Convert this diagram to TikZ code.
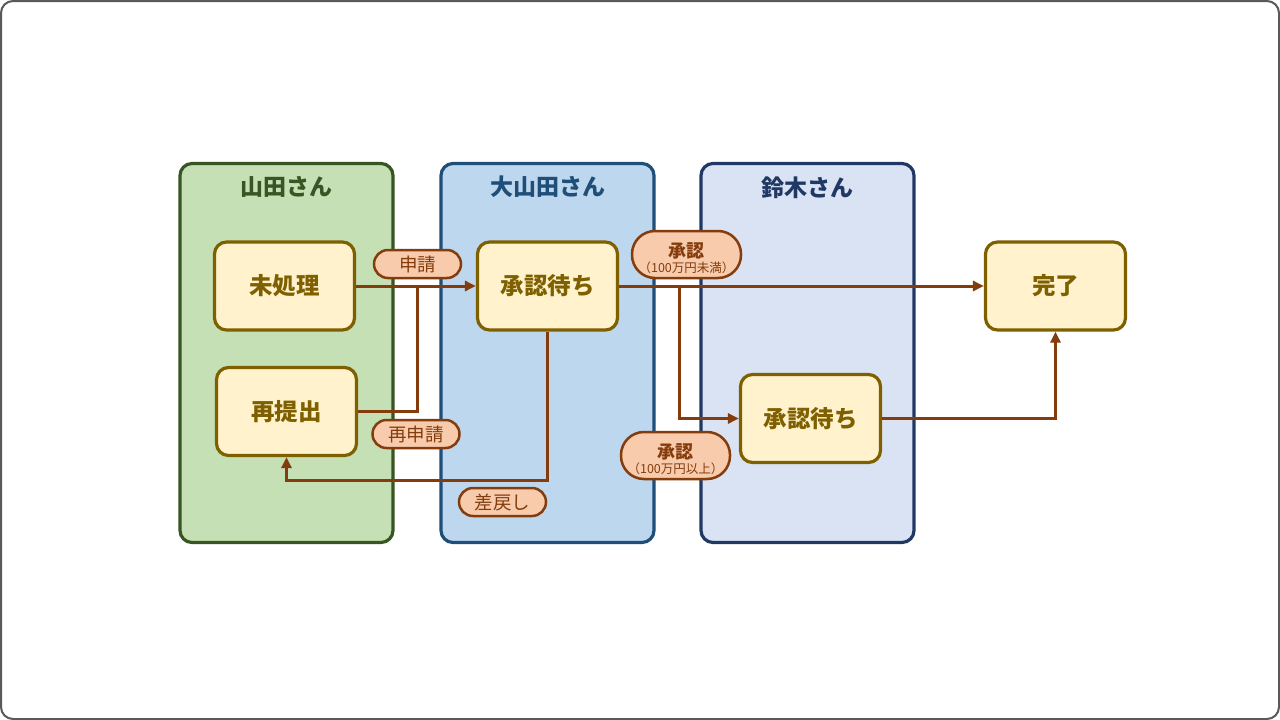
\documentclass[tikz,border=0pt]{standalone}
\usepackage{fontspec}
\setmainfont{Noto Sans CJK JP}
\usetikzlibrary{arrows.meta}
\definecolor{framegray}{HTML}{595959}
\definecolor{laneAfill}{HTML}{C5E0B4}
\definecolor{laneAline}{HTML}{375623}
\definecolor{laneBfill}{HTML}{BDD7EE}
\definecolor{laneBline}{HTML}{1F4E79}
\definecolor{laneCfill}{HTML}{DAE3F3}
\definecolor{laneCline}{HTML}{203864}
\definecolor{statefill}{HTML}{FFF2CC}
\definecolor{stateline}{HTML}{7F6000}
\definecolor{edgecol}{HTML}{843C0C}
\definecolor{tagfill}{HTML}{F8CBAD}
\tikzset{
  lane/.style={rounded corners=12pt, line width=3.2pt, minimum width=213pt, minimum height=379pt, inner sep=0pt},
  lanetitle/.style={font=\fontsize{23}{27}\selectfont\bfseries, inner sep=0pt},
  statebox/.style={draw=stateline, fill=statefill, line width=3.2pt, rounded corners=12pt,
    minimum width=140pt, minimum height=88pt, inner sep=0pt, text=stateline,
    font=\fontsize{23.5}{27}\selectfont\bfseries},
  flow/.style={draw=edgecol, line width=3pt, -{Triangle[length=11pt,width=10pt]}},
  flowplain/.style={draw=edgecol, line width=3pt},
  tag/.style={draw=edgecol, fill=tagfill, line width=2.5pt, rounded corners=14pt,
    minimum width=87pt, minimum height=28pt, inner sep=0pt, text=edgecol,
    font=\fontsize{18.5}{20}\selectfont},
  bigtag/.style={draw=edgecol, fill=tagfill, line width=2.5pt, rounded corners=23pt,
    minimum width=109pt, minimum height=47pt, inner sep=0pt},
  bigtagtext/.style={text=edgecol, align=center, inner sep=0pt, yshift=-3.5pt}
}
\begin{document}
\begin{tikzpicture}[x=1pt,y=-1pt]
\path[use as bounding box] (0,0) rectangle (1280,720);
\draw[framegray, line width=2pt, rounded corners=12pt, fill=white] (1,1) rectangle (1279,719);

% lanes
\node[lane, draw=laneAline, fill=laneAfill] (laneA) at (286.5,353) {};
\node[lane, draw=laneBline, fill=laneBfill] (laneB) at (547.5,353) {};
\node[lane, draw=laneCline, fill=laneCfill] (laneC) at (807.5,353) {};
\node[lanetitle, text=laneAline] (tA) at (286.5,187) {山田さん};
\node[lanetitle, text=laneBline] (tB) at (547.5,187) {大山田さん};
\node[lanetitle, text=laneCline] (tC) at (807.5,188) {鈴木さん};

% states
\node[statebox] (mishori) at (284.5,286) {未処理};
\node[statebox] (saiteishutsu) at (286.5,411.5) {再提出};
\node[statebox] (machiA) at (547.5,286) {承認待ち};
\node[statebox] (kanryo) at (1055.5,286) {完了};
\node[statebox] (machiB) at (810.5,418.5) {承認待ち};

% junctions
\coordinate (j1) at (417,286.5);
\coordinate (j2) at (679,286.5);
\coordinate (j3) at (547.5,480);

% edges
\draw[flow] (mishori.east) -- (machiA.west);
\draw[flowplain] (saiteishutsu.east) -| (j1);
\draw[flow] (machiA.south) -- (j3) -| (saiteishutsu.south);
\draw[flow] (machiA.east) -- (kanryo.west);
\draw[flow] (j2) |- (machiB.west);
\draw[flow] (machiB.east) -| (kanryo.south);

% tags
\node[tag] (lbA) at (417.5,264) {申請};
\node[tag] (lbB) at (416,434) {再申請};
\node[tag] (lbC) at (502.5,502) {差戻し};
\node[bigtag, label={[bigtagtext]center:{\fontsize{18}{19}\selectfont\bfseries 承認}\\[1pt]{\fontsize{12.5}{13}\selectfont （100万円未満）}}] (lbD) at (686.5,254.5) {};
\node[bigtag, label={[bigtagtext]center:{\fontsize{18}{19}\selectfont\bfseries 承認}\\[1pt]{\fontsize{12.5}{13}\selectfont （100万円以上）}}] (lbE) at (675.5,455.5) {};
\end{tikzpicture}
\end{document}
